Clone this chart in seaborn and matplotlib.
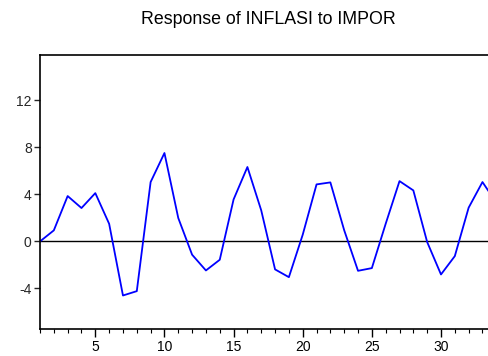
import matplotlib
matplotlib.use("Agg")
import matplotlib.pyplot as plt
import seaborn as sns
import pandas as pd
from matplotlib.ticker import MultipleLocator

periods = list(range(1, 35))
response = [0.0, 0.94, 3.86, 2.84, 4.11, 1.5, -4.6, -4.23, 5.05, 7.52,
            1.99, -1.13, -2.47, -1.56, 3.57, 6.33, 2.64, -2.38, -3.04, 0.57,
            4.85, 5.02, 0.95, -2.5, -2.27, 1.5, 5.13, 4.34, -0.05, -2.81,
            -1.25, 2.87, 5.05, 3.3]
yticks = [-4, 0, 4, 8, 12]
xticks = [5, 10, 15, 20, 25, 30]
title = "Response of INFLASI to IMPOR"

df = pd.DataFrame({"period": periods, "response": response})

sns.set_theme(style="ticks")
plt.rcParams["font.family"] = ["Liberation Sans", "DejaVu Sans"]

fig = plt.figure(figsize=(4.88, 3.56), dpi=100)
ax = fig.add_axes([40 / 488, 27 / 356, 448 / 488, 274.5 / 356])

sns.lineplot(data=df, x="period", y="response", ax=ax, color="#0000FF", linewidth=1.3)
ax.axhline(0, color="black", linewidth=1.0, zorder=1)

ax.set_xlim(1, 33.4)
ax.set_ylim(-7.45, 15.9)
ax.set_yticks(yticks)
ax.set_yticklabels([str(v) for v in yticks])
ax.set_xticks(xticks)
ax.set_xticklabels([str(v) for v in xticks])
ax.xaxis.set_minor_locator(MultipleLocator(1))
ax.tick_params(axis="x", which="major", length=6, width=1, direction="out", labelsize=10, colors="black", pad=2)
ax.tick_params(axis="x", which="minor", length=3, width=0.8, direction="out", colors="black")
ax.tick_params(axis="y", which="major", length=4, width=1, direction="out", labelsize=10, pad=2)
for s in ["left", "top", "bottom"]:
    ax.spines[s].set_linewidth(1.2)
    ax.spines[s].set_color("black")
ax.spines["right"].set_visible(False)
ax.set_xlabel("")
ax.set_ylabel("")
fig.text(268 / 488, 1 - 19 / 356, title, ha="center", va="center", fontsize=12.8, color="black")

fig.savefig("out.png", dpi=100)
